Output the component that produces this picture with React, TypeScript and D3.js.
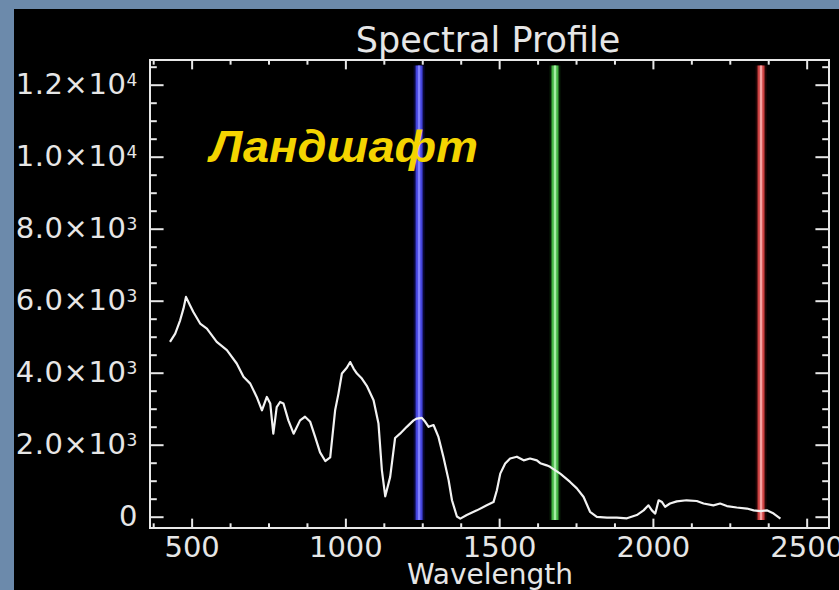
import React from "react";
import * as d3 from "d3";

const W = 839;
const H = 590;

// Spectrum (wavelength, value)
const wavelengths = [
  428, 445, 461, 472, 480, 493, 504, 526, 548, 580, 613, 645, 667, 689, 710, 727, 743, 754, 764, 775,
  786, 797, 813, 830, 851, 867, 884, 900, 916, 933, 949, 965, 976, 987, 1003, 1014, 1025, 1036, 1052, 1068,
  1090, 1106, 1117, 1128, 1144, 1160, 1176, 1198, 1220, 1231, 1247, 1258, 1269, 1285, 1301, 1317, 1334, 1345, 1361, 1372,
  1393, 1426, 1458, 1480, 1491, 1502, 1518, 1534, 1556, 1578, 1599, 1621, 1632, 1653, 1664, 1697, 1729, 1751, 1773, 1794,
  1816, 1849, 1881, 1914, 1946, 1968, 1984, 1995, 2006, 2017, 2028, 2038, 2054, 2076, 2108, 2141, 2163, 2195, 2217, 2239,
  2271, 2304, 2326, 2348, 2369, 2391, 2413,
];
const values = [
  4870, 5100, 5470, 5800, 6120, 5890, 5700, 5380, 5240, 4870, 4640, 4270, 3900, 3710, 3340, 2970, 3340, 3160, 2320, 3060,
  3200, 3160, 2690, 2320, 2690, 2790, 2650, 2230, 1800, 1560, 1660, 2970, 3440, 3990, 4150, 4310, 4130, 3990, 3850, 3650,
  3250, 2600, 1310, 580, 1120, 2200, 2320, 2510, 2690, 2740, 2760, 2650, 2510, 2560, 2230, 1680, 1030, 470, 20, -40,
  60, 190, 330, 420, 750, 1210, 1490, 1630, 1680, 1580, 1630, 1580, 1500, 1440, 1400, 1210, 980, 800, 560, 150,
  10, -10, -10, -30, 60, 190, 330, 190, 100, 470, 420, 290, 380, 440, 470, 450, 380, 330, 380, 310,
  270, 240, 190, 170, 190, 100, -40,
];

// Band marker lines
const bandWavelengths = [1238, 1680, 2350];
const bandColors = ["#4444dc", "#44b444", "#cc4040"];
const bandCores = ["#8080ff", "#a4eca4", "#f6a0a0"];
const bandHalos = ["#14148a", "#104a10", "#5a1010"];

const xMajorTicks = [500, 1000, 1500, 2000, 2500];
const xTickLabels = ["500", "1000", "1500", "2000", "2500"];
const yMajorTicks = [0, 2000, 4000, 6000, 8000, 10000, 12000];
const yTickMantissa = ["0", "2.0×10", "4.0×10", "6.0×10", "8.0×10", "1.0×10", "1.2×10"];
const yTickExponent = ["", "3", "3", "3", "3", "4", "4"];

const title = "Spectral Profile";
const xTitle = "Wavelength";
const annotation = "Ландшафт";

export default function App() {
  const left = 150, right = 829, top = 60, bottom = 528;
  const x = d3.scaleLinear().domain([363, 2571]).range([left, right]);
  const y = d3.scaleLinear().domain([-300, 12700]).range([bottom, top]);

  const xMinor = d3.range(375, 2571, 125).filter((v) => !xMajorTicks.includes(v));
  const yMinor = d3.range(0, 12700, 500).filter((v) => !yMajorTicks.includes(v));

  const xLen = 0.02 * (bottom - top);
  const yLen = 0.02 * (right - left);

  const pts = wavelengths.map((w, i) => [w, values[i]] as [number, number]);
  const line = d3
    .line<[number, number]>()
    .x((d) => x(d[0]))
    .y((d) => y(d[1]));

  const font = "'DejaVu Sans', sans-serif";
  const textFill = "#e6e6e6";
  const axisColor = "#e8e8e8";

  return (
    <svg
      width={W}
      height={H}
      style={{ position: "fixed", left: 0, top: 0, display: "block" }}
    >
      <rect x={0} y={0} width={W} height={H} fill="#000" />

      {/* band lines */}
      {bandWavelengths.map((b, i) => (
        <g key={"b" + i}>
          <line x1={x(b)} x2={x(b)} y1={y(12550)} y2={y(-80)} stroke={bandHalos[i]} strokeWidth={11} opacity={0.4} />
          <line x1={x(b)} x2={x(b)} y1={y(12550)} y2={y(-80)} stroke={bandColors[i]} strokeWidth={7} />
          <line x1={x(b)} x2={x(b)} y1={y(12550)} y2={y(-80)} stroke={bandCores[i]} strokeWidth={2.5} />
        </g>
      ))}

      {/* spectrum */}
      <path d={line(pts) || ""} fill="none" stroke="#f2f2f2" strokeWidth={2.2} strokeLinejoin="round" />

      {/* frame */}
      <rect x={left} y={top} width={right - left} height={bottom - top} fill="none" stroke={axisColor} strokeWidth={2} />

      {/* x ticks */}
      {xMajorTicks.map((t) => (
        <g key={"xm" + t}>
          <line x1={x(t)} x2={x(t)} y1={bottom} y2={bottom - xLen} stroke={axisColor} strokeWidth={2} />
          <line x1={x(t)} x2={x(t)} y1={top} y2={top + xLen} stroke={axisColor} strokeWidth={2} />
        </g>
      ))}
      {xMinor.map((t) => (
        <g key={"xn" + t}>
          <line x1={x(t)} x2={x(t)} y1={bottom} y2={bottom - xLen / 2} stroke={axisColor} strokeWidth={2} />
          <line x1={x(t)} x2={x(t)} y1={top} y2={top + xLen / 2} stroke={axisColor} strokeWidth={2} />
        </g>
      ))}
      {/* y ticks */}
      {yMajorTicks.map((t) => (
        <g key={"ym" + t}>
          <line x1={left} x2={left + yLen} y1={y(t)} y2={y(t)} stroke={axisColor} strokeWidth={2} />
          <line x1={right} x2={right - yLen} y1={y(t)} y2={y(t)} stroke={axisColor} strokeWidth={2} />
        </g>
      ))}
      {yMinor.map((t) => (
        <g key={"yn" + t}>
          <line x1={left} x2={left + yLen / 2} y1={y(t)} y2={y(t)} stroke={axisColor} strokeWidth={2} />
          <line x1={right} x2={right - yLen / 2} y1={y(t)} y2={y(t)} stroke={axisColor} strokeWidth={2} />
        </g>
      ))}

      {/* x tick labels */}
      {xMajorTicks.map((t, i) => (
        <text key={"xl" + t} x={x(t)} y={557} textAnchor="middle" fontFamily={font} fontSize={29} fill={textFill}>
          {xTickLabels[i]}
        </text>
      ))}
      {/* y tick labels */}
      {yMajorTicks.map((t, i) => (
        <text key={"yl" + t} x={138} y={y(t) + 9} textAnchor="end" fontFamily={font} fontSize={29} fill={textFill} letterSpacing={0.6}>
          {yTickMantissa[i]}
          {yTickExponent[i] ? (
            <tspan fontSize={17} dy={-8}>
              {yTickExponent[i]}
            </tspan>
          ) : null}
        </text>
      ))}

      {/* titles */}
      <text x={488} y={52} textAnchor="middle" fontFamily={font} fontSize={35} fill={textFill}>
        {title}
      </text>
      <text x={490} y={584} textAnchor="middle" fontFamily={font} fontSize={28} fill={textFill}>
        {xTitle}
      </text>

      <text
        x={210}
        y={162}
        fontFamily="'Liberation Sans', Arial, sans-serif"
        fontWeight="bold"
        fontStyle="italic"
        fontSize={45}
        fill="#f4d400"
        textLength={268}
        lengthAdjust="spacingAndGlyphs"
      >
        {annotation}
      </text>

      {/* outer border */}
      <rect x={0} y={0} width={14} height={H} fill="#6c8aab" />
      <rect x={0} y={0} width={W} height={9} fill="#6c8aab" />
    </svg>
  );
}
